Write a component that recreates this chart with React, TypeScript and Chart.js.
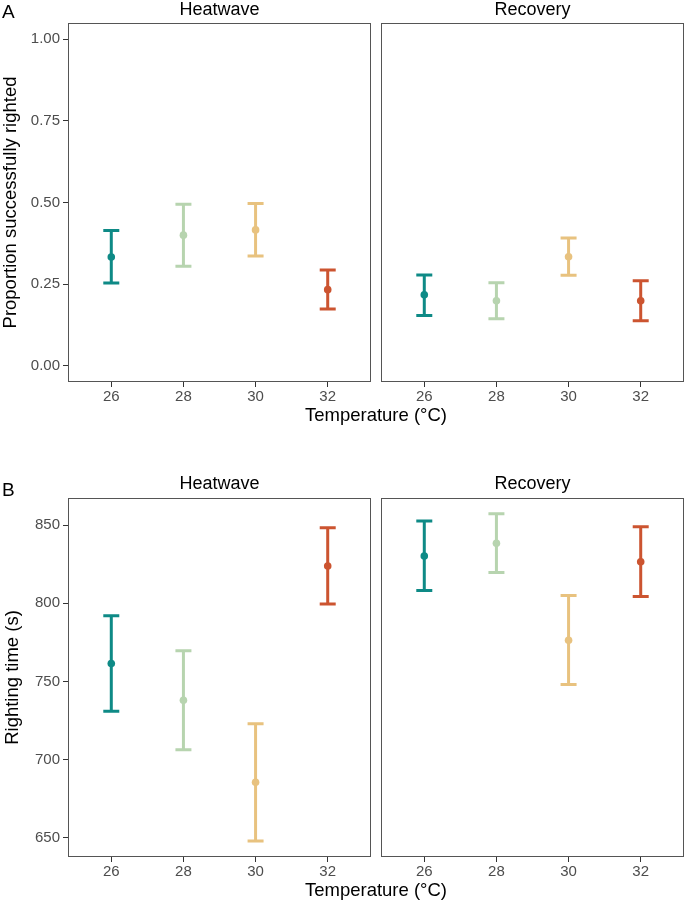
import React, { useEffect, useRef } from 'react';
import { Chart, registerables } from 'chart.js';

Chart.register(...registerables);

const FONT = '"Liberation Sans", Arial, Helvetica, sans-serif';

// ---- data ----
const temperatures = ['26', '28', '30', '32'];
const colors = ['#0E8A86', '#B7D4AF', '#E8C27F', '#CC5430'];

const propTicks = [0, 0.25, 0.5, 0.75, 1.0];
const timeTicks = [650, 700, 750, 800, 850];

const propHeatMean = [0.333, 0.4, 0.416, 0.233];
const propHeatLow = [0.253, 0.305, 0.336, 0.174];
const propHeatHigh = [0.414, 0.495, 0.497, 0.293];

const propRecMean = [0.217, 0.199, 0.334, 0.199];
const propRecLow = [0.154, 0.144, 0.277, 0.138];
const propRecHigh = [0.278, 0.254, 0.391, 0.26];

const timeHeatMean = [761.5, 738, 685.6, 823.8];
const timeHeatLow = [731, 706.3, 648, 799.5];
const timeHeatHigh = [792, 769.6, 723, 848.3];

const timeRecMean = [830.2, 838.3, 776.4, 826.5];
const timeRecLow = [808.2, 819.7, 748, 804.4];
const timeRecHigh = [852.6, 857.2, 805, 848.9];

type Spec = {
  mean: number[];
  low: number[];
  high: number[];
  yMin: number;
  yMax: number;
  yTicks: number[];
  fmt: (v: number) => string;
  showY: boolean;
  yTitle?: string;
  area: { L: number; T: number; R: number; B: number };
  canvas: { x: number; y: number; w: number; h: number };
  yw: number;
};

const XH = 25;

function Panel({ spec }: { spec: Spec }) {
  const ref = useRef<HTMLCanvasElement>(null);
  useEffect(() => {
    const s = spec;
    const padLeft = s.area.L - s.canvas.x - (s.showY ? s.yw : 0);
    const padTop = s.area.T - s.canvas.y;
    const padRight = s.canvas.x + s.canvas.w - s.area.R;
    const padBottom = s.canvas.y + s.canvas.h - s.area.B - XH;

    const errorBars = {
      id: 'errorBars',
      beforeDatasetsDraw(chart: any) {
        const ctx = chart.ctx;
        const xs = chart.scales.x;
        const ys = chart.scales.y;
        ctx.save();
        ctx.lineWidth = 3;
        ctx.lineCap = 'butt';
        s.mean.forEach((_, i) => {
          const px = xs.getPixelForValue(i + 1);
          const pl = ys.getPixelForValue(s.low[i]);
          const ph = ys.getPixelForValue(s.high[i]);
          ctx.strokeStyle = colors[i];
          ctx.beginPath();
          ctx.moveTo(px, pl);
          ctx.lineTo(px, ph);
          ctx.moveTo(px - 8, pl);
          ctx.lineTo(px + 8, pl);
          ctx.moveTo(px - 8, ph);
          ctx.lineTo(px + 8, ph);
          ctx.stroke();
        });
        ctx.restore();
      },
    };

    const frame = {
      id: 'frame',
      afterDraw(chart: any) {
        const ctx = chart.ctx;
        const a = chart.chartArea;
        ctx.save();
        ctx.strokeStyle = '#555555';
        ctx.lineWidth = 1;
        ctx.strokeRect(
          Math.round(a.left) + 0.5,
          Math.round(a.top) + 0.5,
          Math.round(a.right - a.left) - 1,
          Math.round(a.bottom - a.top) - 1
        );
        ctx.restore();
      },
    };

    const chart = new Chart(ref.current as HTMLCanvasElement, {
      type: 'scatter',
      data: {
        datasets: [
          {
            data: s.mean.map((m, i) => ({ x: i + 1, y: m })),
            backgroundColor: colors,
            borderWidth: 0,
            pointRadius: 3.8,
            pointHoverRadius: 3.8,
          },
        ],
      },
      options: {
        animation: false,
        responsive: false,
        events: [],
        layout: {
          padding: { left: padLeft, top: padTop, right: padRight, bottom: padBottom },
        },
        plugins: {
          legend: { display: false },
          tooltip: { enabled: false },
          title: { display: false },
        },
        scales: {
          x: {
            type: 'linear',
            min: 0.4,
            max: 4.6,
            afterBuildTicks: (sc: any) => {
              sc.ticks = temperatures.map((_, i) => ({ value: i + 1 }));
            },
            afterFit: (sc: any) => {
              sc.height = XH;
            },
            ticks: {
              callback: (_v: any, idx: number) => temperatures[idx],
              color: '#4D4D4D',
              font: { family: FONT, size: 15 },
              padding: 1,
              autoSkip: false,
              maxRotation: 0,
              minRotation: 0,
            },
            grid: {
              drawOnChartArea: false,
              drawTicks: true,
              tickLength: 5,
              tickColor: '#333333',
              lineWidth: 1,
            },
            border: { display: false },
          },
          y: {
            type: 'linear',
            display: s.showY,
            min: s.yMin,
            max: s.yMax,
            afterBuildTicks: (sc: any) => {
              sc.ticks = s.yTicks.map((v) => ({ value: v }));
            },
            afterFit: (sc: any) => {
              sc.width = s.yw;
            },
            ticks: {
              callback: (v: any) => s.fmt(Number(v)),
              color: '#4D4D4D',
              font: { family: FONT, size: 15 },
              padding: 3,
              autoSkip: false,
            },
            grid: {
              drawOnChartArea: false,
              drawTicks: true,
              tickLength: 5,
              tickColor: '#333333',
              lineWidth: 1,
            },
            border: { display: false },
            title: {
              display: !!s.yTitle,
              text: s.yTitle || '',
              color: '#000000',
              font: { family: FONT, size: 18.5 },
              padding: 0,
            },
          },
        },
      } as any,
      plugins: [errorBars, frame],
    } as any);
    return () => chart.destroy();
  }, [spec]);

  return (
    <canvas
      ref={ref}
      width={spec.canvas.w}
      height={spec.canvas.h}
      style={{
        position: 'absolute',
        left: spec.canvas.x,
        top: spec.canvas.y,
        width: spec.canvas.w,
        height: spec.canvas.h,
      }}
    />
  );
}

function Txt({
  text,
  x,
  baseline,
  size,
  align = 'center',
  color = '#000',
}: {
  text: string;
  x: number;
  baseline: number;
  size: number;
  align?: 'center' | 'left';
  color?: string;
}) {
  const style: React.CSSProperties = {
    position: 'absolute',
    top: baseline - 0.8465 * size,
    fontSize: size,
    lineHeight: 1,
    fontFamily: FONT,
    color,
    whiteSpace: 'nowrap',
  };
  if (align === 'center') {
    style.left = x - 200;
    style.width = 400;
    style.textAlign = 'center';
  } else {
    style.left = x;
  }
  return <div style={style}>{text}</div>;
}

const fmtProp = (v: number) => v.toFixed(2);
const fmtTime = (v: number) => String(Math.round(v));

const specs: Spec[] = [
  {
    mean: propHeatMean,
    low: propHeatLow,
    high: propHeatHigh,
    yMin: -0.05,
    yMax: 1.05,
    yTicks: propTicks,
    fmt: fmtProp,
    showY: true,
    yTitle: 'Proportion successfully righted',
    area: { L: 68, T: 23, R: 371, B: 382 },
    canvas: { x: 0, y: 0, w: 376, h: 410 },
    yw: 68,
  },
  {
    mean: propRecMean,
    low: propRecLow,
    high: propRecHigh,
    yMin: -0.05,
    yMax: 1.05,
    yTicks: propTicks,
    fmt: fmtProp,
    showY: false,
    area: { L: 381, T: 23, R: 684, B: 382 },
    canvas: { x: 376, y: 0, w: 314, h: 410 },
    yw: 0,
  },
  {
    mean: timeHeatMean,
    low: timeHeatLow,
    high: timeHeatHigh,
    yMin: 637.8,
    yMax: 867.3,
    yTicks: timeTicks,
    fmt: fmtTime,
    showY: true,
    yTitle: 'Righting time (s)',
    area: { L: 68, T: 498, R: 371, B: 857 },
    canvas: { x: 0, y: 470, w: 376, h: 415 },
    yw: 66,
  },
  {
    mean: timeRecMean,
    low: timeRecLow,
    high: timeRecHigh,
    yMin: 637.8,
    yMax: 867.3,
    yTicks: timeTicks,
    fmt: fmtTime,
    showY: false,
    area: { L: 381, T: 498, R: 684, B: 857 },
    canvas: { x: 376, y: 470, w: 314, h: 415 },
    yw: 0,
  },
];

export default function App() {
  return (
    <div
      style={{
        position: 'absolute',
        left: 0,
        top: 0,
        width: 685,
        height: 903,
        background: '#ffffff',
        overflow: 'hidden',
      }}
    >
      {specs.map((s, i) => (
        <Panel key={i} spec={s} />
      ))}
      <Txt text="A" x={2} baseline={18.5} size={19} align="left" />
      <Txt text="Heatwave" x={219.5} baseline={15} size={18} />
      <Txt text="Recovery" x={532.5} baseline={15} size={18} />
      <Txt text="Temperature (°C)" x={376} baseline={421.7} size={18.5} />
      <Txt text="B" x={2} baseline={495.7} size={19} align="left" />
      <Txt text="Heatwave" x={219.5} baseline={489} size={18} />
      <Txt text="Recovery" x={532.5} baseline={489} size={18} />
      <Txt text="Temperature (°C)" x={376} baseline={896.7} size={18.5} />
    </div>
  );
}
